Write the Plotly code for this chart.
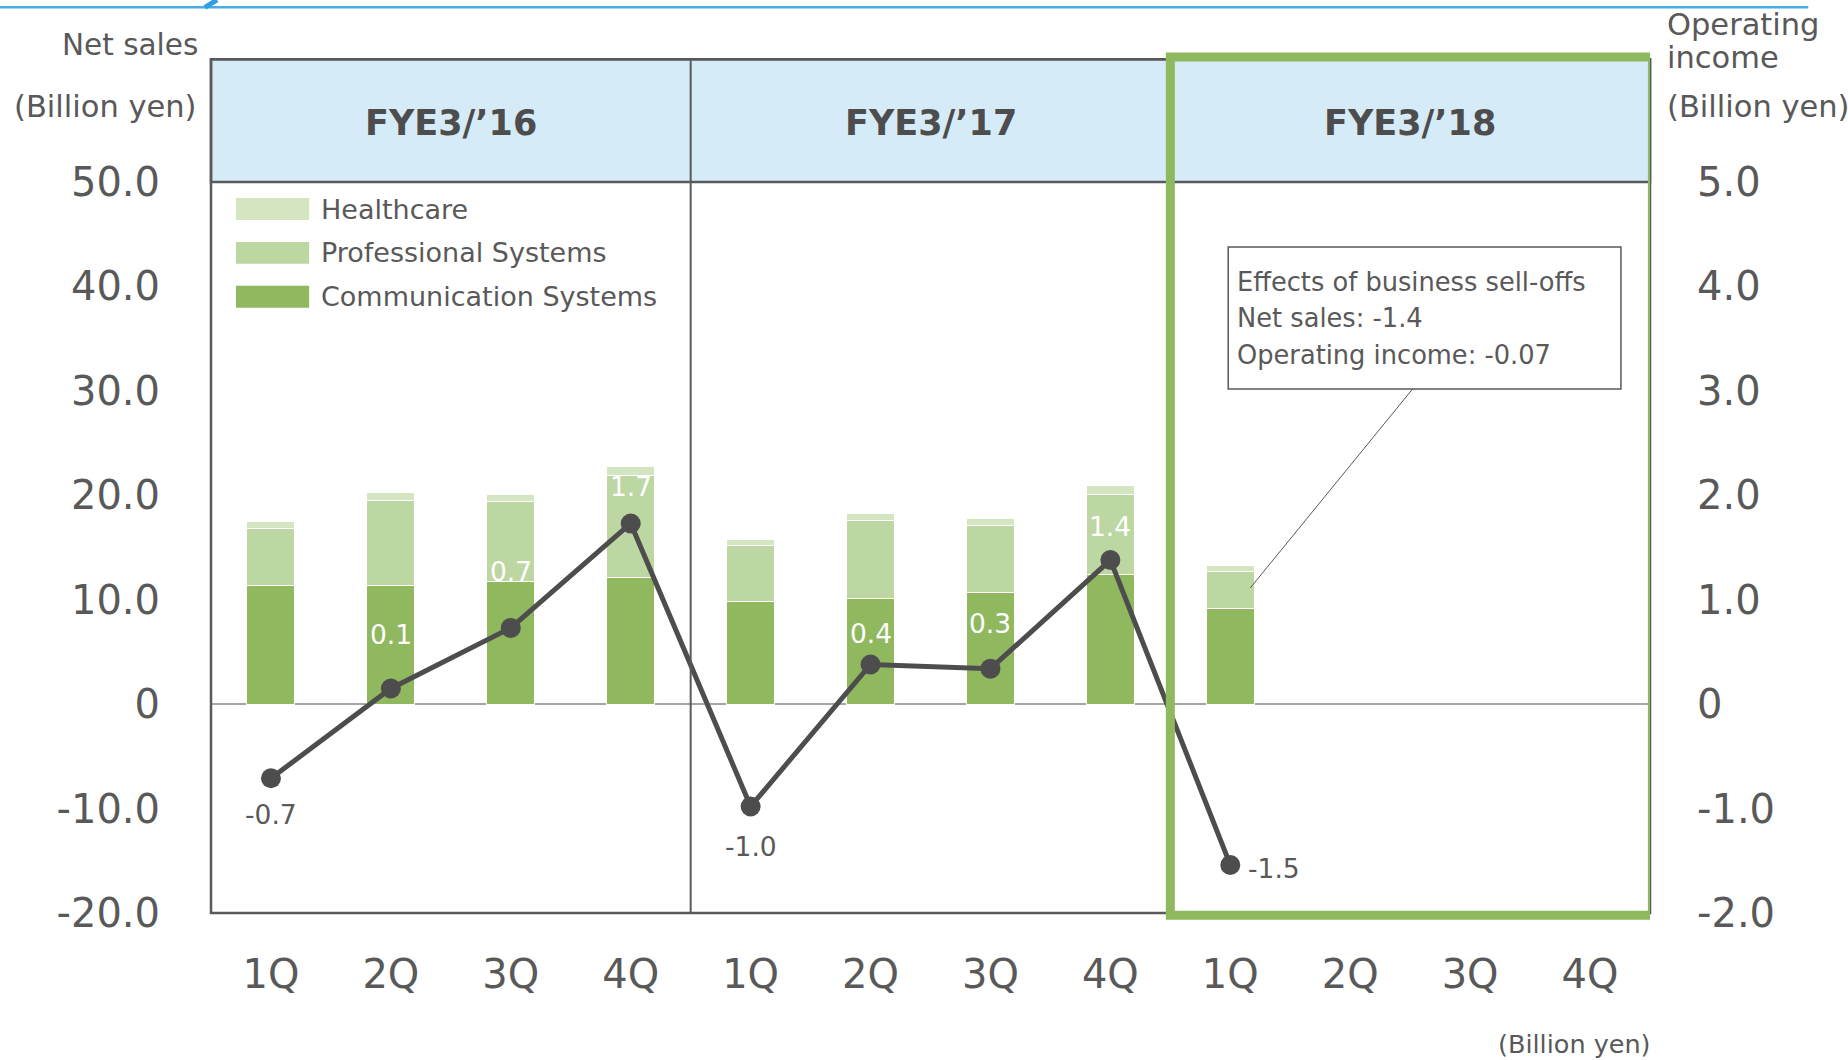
import plotly.graph_objects as go

# quarterly data (billion yen)
quarters = ["1Q", "2Q", "3Q", "4Q", "1Q", "2Q", "3Q", "4Q", "1Q", "2Q", "3Q", "4Q"]
fiscal_years = ["FYE3/\u201916", "FYE3/\u201917", "FYE3/\u201918"]
segments = ["Communication Systems", "Professional Systems", "Healthcare"]
comm = [11.4, 11.4, 11.7, 12.1, 9.8, 10.1, 10.7, 12.4, 9.2]
prof = [5.4, 8.1, 7.7, 9.8, 5.4, 7.5, 6.4, 7.7, 3.5]
health = [0.7, 0.8, 0.7, 0.9, 0.6, 0.7, 0.7, 0.8, 0.6]
op_income = [-0.71, 0.15, 0.73, 1.73, -0.98, 0.38, 0.34, 1.38, -1.54]
op_labels = ["-0.7", "0.1", "0.7", "1.7", "-1.0", "0.4", "0.3", "1.4", "-1.5"]
left_ticks = [-20, -10, 0, 10, 20, 30, 40, 50]
left_ticktext = ["-20.0", "-10.0", "0", "10.0", "20.0", "30.0", "40.0", "50.0"]
right_ticks = [-2, -1, 0, 1, 2, 3, 4, 5]
right_ticktext = ["-2.0", "-1.0", "0", "1.0", "2.0", "3.0", "4.0", "5.0"]
note_lines = ["Effects of business sell-offs", "Net sales: -1.4", "Operating income: -0.07"]

FONT = "DejaVu Sans"
GREY = "#595959"
colors = ["#8fb85f", "#bcd7a1", "#d4e5c1"]
HDR = 1.168  # top of the header band in paper units

xs = list(range(len(comm)))
fig = go.Figure()
for name, vals, col in zip(segments, [comm, prof, health], colors):
    fig.add_trace(go.Bar(x=xs, y=vals, name=name, marker_color=col,
                         marker_line=dict(color="white", width=1), showlegend=False))

fig.add_trace(go.Scatter(x=xs, y=op_income, yaxis="y2", mode="lines+markers",
                         line=dict(color="#4d4d4d", width=5),
                         marker=dict(size=20, color="#4d4d4d"), showlegend=False))

shapes = []
ann = []
# header band + frame
shapes.append(dict(type="rect", xref="paper", yref="paper", x0=0, x1=1, y0=1, y1=HDR,
                   fillcolor="#d6ebf8", line=dict(color=GREY, width=2.5), layer="below"))
shapes.append(dict(type="rect", xref="paper", yref="paper", x0=0, x1=1, y0=0, y1=HDR,
                   line=dict(color=GREY, width=2.5)))
for b in [3.5, 7.5]:
    shapes.append(dict(type="line", xref="x", yref="paper", x0=b, x1=b, y0=0, y1=HDR,
                       line=dict(color=GREY, width=2)))
for i, fy in enumerate(fiscal_years):
    ann.append(dict(x=i * 4 + 1.5, y=1.081, xref="x", yref="paper", text="<b>%s</b>" % fy,
                    showarrow=False, xanchor="center", yanchor="middle",
                    font=dict(size=35, color="#4d4d4d", family=FONT)))
# highlight box for the current year
shapes.append(dict(type="rect", xref="x", yref="paper", x0=7.5, x1=11.52, y0=-0.003, y1=HDR + 0.003,
                   line=dict(color="#8fb95e", width=9)))

# legend drawn by hand (big swatches, healthcare on top)
for k, (name, col) in enumerate(zip(segments[::-1], colors[::-1])):
    yc = 0.963 - k * 0.06
    shapes.append(dict(type="rect", xref="paper", yref="paper", x0=0.0174, x1=0.0682,
                       y0=yc - 0.015, y1=yc + 0.015, fillcolor=col, line=dict(width=0)))
    ann.append(dict(x=0.0752, y=yc, xref="paper", yref="paper", text=name, showarrow=False,
                    xanchor="left", yanchor="middle", font=dict(size=27, color=GREY, family=FONT)))

# operating income labels
for i, (v, t) in enumerate(zip(op_income, op_labels)):
    last = i == len(op_income) - 1
    if last:
        ann.append(dict(x=i, y=v, xref="x", yref="y2", text=t, showarrow=False, xanchor="left",
                        xshift=16, yshift=-4, font=dict(size=26.5, color=GREY, family=FONT)))
        continue
    shift = {0: -36, 1: 54, 2: 56, 3: 37, 4: -40, 5: 31, 6: 45, 7: 34}[i]
    ann.append(dict(x=i, y=v, xref="x", yref="y2", text=t, showarrow=False, yshift=shift,
                    font=dict(size=26.5, color="white" if v > 0 else GREY, family=FONT)))

# note box with leader line
shapes.append(dict(type="rect", xref="paper", yref="paper", x0=0.7069, x1=0.9798, y0=0.7168, y1=0.9111,
                   fillcolor="white", line=dict(color=GREY, width=1.5)))
shapes.append(dict(type="line", xref="paper", yref="paper", x0=0.8350, y0=0.7168, x1=0.7222, y1=0.4446,
                   line=dict(color=GREY, width=1)))
for k, line in enumerate(note_lines):
    ann.append(dict(x=0.7117, y=0.8632 - k * 0.0499, xref="paper", yref="paper", text=line,
                    showarrow=False, xanchor="left", yanchor="middle",
                    font=dict(size=25.7, color=GREY, family=FONT)))

# axis titles
ann.append(dict(x=-0.0077, y=1.187, xref="paper", yref="paper", text="Net sales", showarrow=False,
                xanchor="right", yanchor="middle", font=dict(size=29.5, color=GREY, family=FONT)))
ann.append(dict(x=-0.009, y=1.1026, xref="paper", yref="paper", text="(Billion yen)", showarrow=False,
                xanchor="right", yanchor="middle", font=dict(size=30.5, color=GREY, family=FONT)))
for txt, yy in [("Operating", 1.216), ("income", 1.170), ("(Billion yen)", 1.1026)]:
    ann.append(dict(x=1.0104, y=yy, xref="paper", yref="paper", text=txt, showarrow=False,
                    xanchor="left", yanchor="middle", font=dict(size=30.5, color=GREY, family=FONT)))
ann.append(dict(x=1.002, y=-0.179, xref="paper", yref="paper", text="(Billion yen)", showarrow=False,
                xanchor="right", yanchor="middle", font=dict(size=25.5, color=GREY, family=FONT)))

# slide header line at the very top
shapes.append(dict(type="line", xref="paper", yref="paper", x0=-0.147, x1=1.110, y0=1.239, y1=1.239,
                   line=dict(color="#4aaee6", width=2.5)))
shapes.append(dict(type="line", xref="paper", yref="paper", x0=-0.0042, x1=0.0042, y0=1.239, y1=1.249,
                   line=dict(color="#2f9fe0", width=5)))

fig.update_layout(
    width=1848, height=1060,
    margin=dict(l=211, r=198, t=182, b=147),
    plot_bgcolor="white", paper_bgcolor="white",
    barmode="stack", bargap=0.6,
    font=dict(family=FONT, color=GREY),
    shapes=shapes, annotations=ann,
    xaxis=dict(range=[-0.5, 11.5], tickvals=list(range(len(quarters))), ticktext=quarters,
               showgrid=False, zeroline=False, ticks="", ticklabelstandoff=34,
               tickfont=dict(size=40, color=GREY, family=FONT)),
    yaxis=dict(range=[-20, 50], tickvals=left_ticks, ticktext=left_ticktext, showgrid=False,
               zeroline=True, zerolinecolor="#a6a6a6", zerolinewidth=1.5, ticks="",
               ticklabelstandoff=50, tickfont=dict(size=40, color=GREY, family=FONT)),
    yaxis2=dict(range=[-2, 5], tickvals=right_ticks, ticktext=right_ticktext, overlaying="y",
                side="right", showgrid=False, zeroline=False, ticks="", ticklabelstandoff=46,
                tickfont=dict(size=40, color=GREY, family=FONT)),
)

# page body has a default 8px margin; drop it so the figure fills the window
fig.write_html("out.html", config={"displayModeBar": False},
               post_script="document.body.style.margin='0px';")
